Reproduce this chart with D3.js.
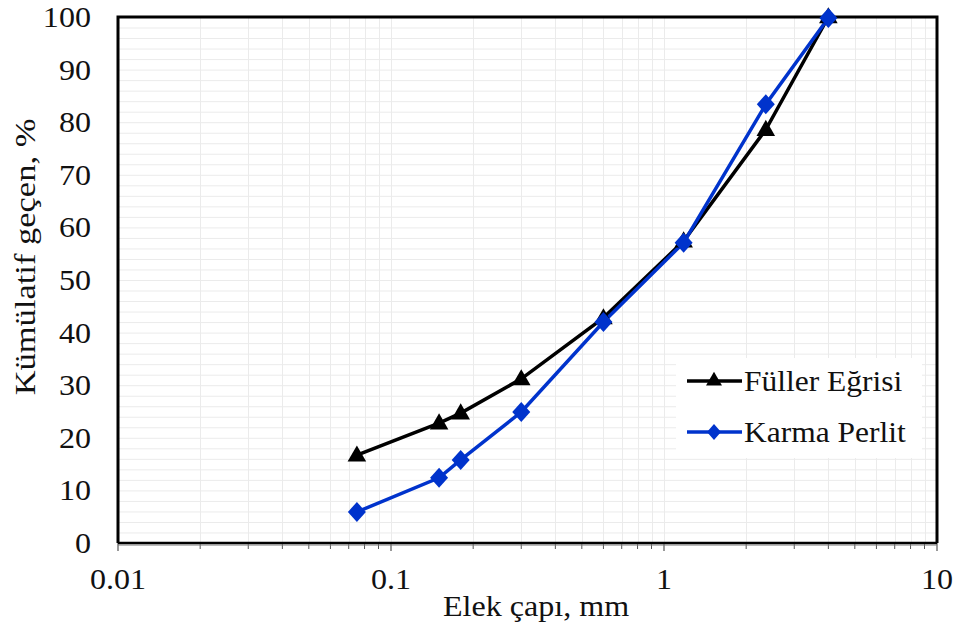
<!DOCTYPE html>
<html>
<head>
<meta charset="utf-8">
<script src="https://cdn.jsdelivr.net/npm/d3@7"></script>
<style>
  html, body { margin: 0; padding: 0; background: #fff; }
  svg { display: block; font-family: "Liberation Serif", "Times New Roman", serif; }
</style>
</head>
<body>
<svg id="chart" width="958" height="632"></svg>
<script>
// --- Data ---
const sieveSizes = [0.075, 0.15, 0.18, 0.3, 0.6, 1.18, 2.36, 4];
const fullerValues = [16.7, 22.8, 24.7, 31.2, 42.8, 57.4, 78.6, 100];
const perlitValues = [5.9, 12.4, 15.8, 24.9, 42.0, 57.1, 83.4, 99.8];
const yTicks = [0, 10, 20, 30, 40, 50, 60, 70, 80, 90, 100];
const xTicks = [0.01, 0.1, 1, 10];
const seriesNames = ['Füller Eğrisi', 'Karma Perlit'];

const MARGIN = { left: 118, right: 21, top: 17, bottom: 89 };
const W = 958, H = 632;
const innerW = W - MARGIN.left - MARGIN.right;
const innerH = H - MARGIN.top - MARGIN.bottom;
const FONT = 30;

const svg = d3.select('#chart');
const g = svg.append('g').attr('transform', `translate(${MARGIN.left},${MARGIN.top})`);

const x = d3.scaleLog().domain([0.01, 10]).range([0, innerW]);
const y = d3.scaleLinear().domain([0, 100]).range([innerH, 0]);

// minor log positions
const minorX = [];
for (let dec = 0.01; dec < 10; dec *= 10) {
    for (let k = 2; k <= 9; k++) minorX.push(+(dec * k).toPrecision(3));
}

// --- Grid ---
const gridG = g.append('g').attr('stroke', '#ebebeb').attr('stroke-width', 1);
gridG.selectAll('line.gy')
    .data(d3.range(2, 100, 2))
    .join('line')
    .attr('x1', 0).attr('x2', innerW)
    .attr('y1', d => y(d) + 0.5).attr('y2', d => y(d) + 0.5);
gridG.selectAll('line.gx')
    .data(minorX.concat([0.1, 1]))
    .join('line')
    .attr('x1', d => Math.round(x(d)) + 0.5).attr('x2', d => Math.round(x(d)) + 0.5)
    .attr('y1', 0).attr('y2', innerH);

// --- X axis ticks ---
const axisG = g.append('g').attr('transform', `translate(0,${innerH})`);
axisG.selectAll('line.minor')
    .data(minorX)
    .join('line')
    .attr('x1', d => x(d)).attr('x2', d => x(d))
    .attr('y1', 0).attr('y2', 6)
    .attr('stroke', '#555').attr('stroke-width', 1);
axisG.selectAll('line.major')
    .data(xTicks)
    .join('line')
    .attr('x1', d => x(d)).attr('x2', d => x(d))
    .attr('y1', 0).attr('y2', 8)
    .attr('stroke', '#555').attr('stroke-width', 1.2);
axisG.selectAll('text')
    .data(xTicks)
    .join('text')
    .attr('transform', d => `translate(${x(d)},46) scale(1.07,1)`)
    .attr('text-anchor', 'middle')
    .attr('font-size', FONT)
    .attr('fill', '#111')
    .text(d => String(d));

// --- Y tick labels ---
g.append('g').selectAll('text')
    .data(yTicks)
    .join('text')
    .attr('transform', d => `translate(-27,${y(d) + 10}) scale(1.07,1)`)
    .attr('text-anchor', 'end')
    .attr('font-size', FONT)
    .attr('fill', '#111')
    .text(d => d);

// --- Frame ---
g.append('path')
    .attr('d', `M0,${innerH}V0H${innerW}V${innerH}`)
    .attr('fill', 'none')
    .attr('stroke', '#000')
    .attr('stroke-width', 3);
g.append('line')
    .attr('x1', 0).attr('x2', innerW)
    .attr('y1', innerH).attr('y2', innerH)
    .attr('stroke', '#000').attr('stroke-width', 2.5);
g.append('line')
    .attr('x1', 0).attr('x2', innerW)
    .attr('y1', innerH + 2).attr('y2', innerH + 2)
    .attr('stroke', '#777').attr('stroke-width', 1);

// --- Series ---
const line = d3.line().x(d => x(d[0])).y(d => y(d[1]));
const tri = d3.symbol().type(d3.symbolTriangle).size(150);
const dia = 'M0,-10L9,0L0,10L-9,0Z';

const fullerPts = sieveSizes.map((s, i) => [s, fullerValues[i]]);
const perlitPts = sieveSizes.map((s, i) => [s, perlitValues[i]]);

g.append('path').datum(fullerPts)
    .attr('d', line).attr('fill', 'none')
    .attr('stroke', '#000').attr('stroke-width', 3.5);
g.append('path').datum(perlitPts)
    .attr('d', line).attr('fill', 'none')
    .attr('stroke', '#0033cc').attr('stroke-width', 3.5);

g.selectAll('path.tri')
    .data(fullerPts)
    .join('path')
    .attr('transform', d => `translate(${x(d[0])},${y(d[1]) + 1})`)
    .attr('d', tri)
    .attr('fill', '#000');
g.selectAll('path.dia')
    .data(perlitPts)
    .join('path')
    .attr('transform', d => `translate(${x(d[0])},${y(d[1])})`)
    .attr('d', dia)
    .attr('fill', '#0033cc');

// --- Legend ---
const legG = svg.append('g').attr('transform', 'translate(676,358)');
legG.append('rect')
    .attr('width', 246).attr('height', 100)
    .attr('fill', '#fff');
const legItems = [
    { name: seriesNames[0], color: '#000', mark: d3.symbol().type(d3.symbolTriangle).size(110)() },
    { name: seriesNames[1], color: '#0033cc', mark: 'M0,-8L7,0L0,8L-7,0Z' }
];
legItems.forEach((it, i) => {
    const ly = 23 + i * 51;
    legG.append('line')
        .attr('x1', 11).attr('x2', 66)
        .attr('y1', ly).attr('y2', ly)
        .attr('stroke', it.color).attr('stroke-width', 3.5);
    legG.append('path')
        .attr('transform', `translate(38,${ly})`)
        .attr('d', it.mark)
        .attr('fill', it.color);
    legG.append('text')
        .attr('transform', `translate(68,${ly + 10}) scale(1.05,1)`)
        .attr('font-size', FONT)
        .attr('fill', '#111')
        .text(it.name);
});

// --- Axis titles ---
svg.append('text')
    .attr('transform', 'translate(536,616) scale(1.07,1)')
    .attr('text-anchor', 'middle')
    .attr('font-size', FONT)
    .attr('fill', '#111')
    .text('Elek çapı, mm');
svg.append('text')
    .attr('transform', 'translate(35,257) rotate(-90) scale(1.15,1)')
    .attr('text-anchor', 'middle')
    .attr('font-size', FONT)
    .attr('fill', '#111')
    .text('Kümülatif geçen, %');
</script>
</body>
</html>
